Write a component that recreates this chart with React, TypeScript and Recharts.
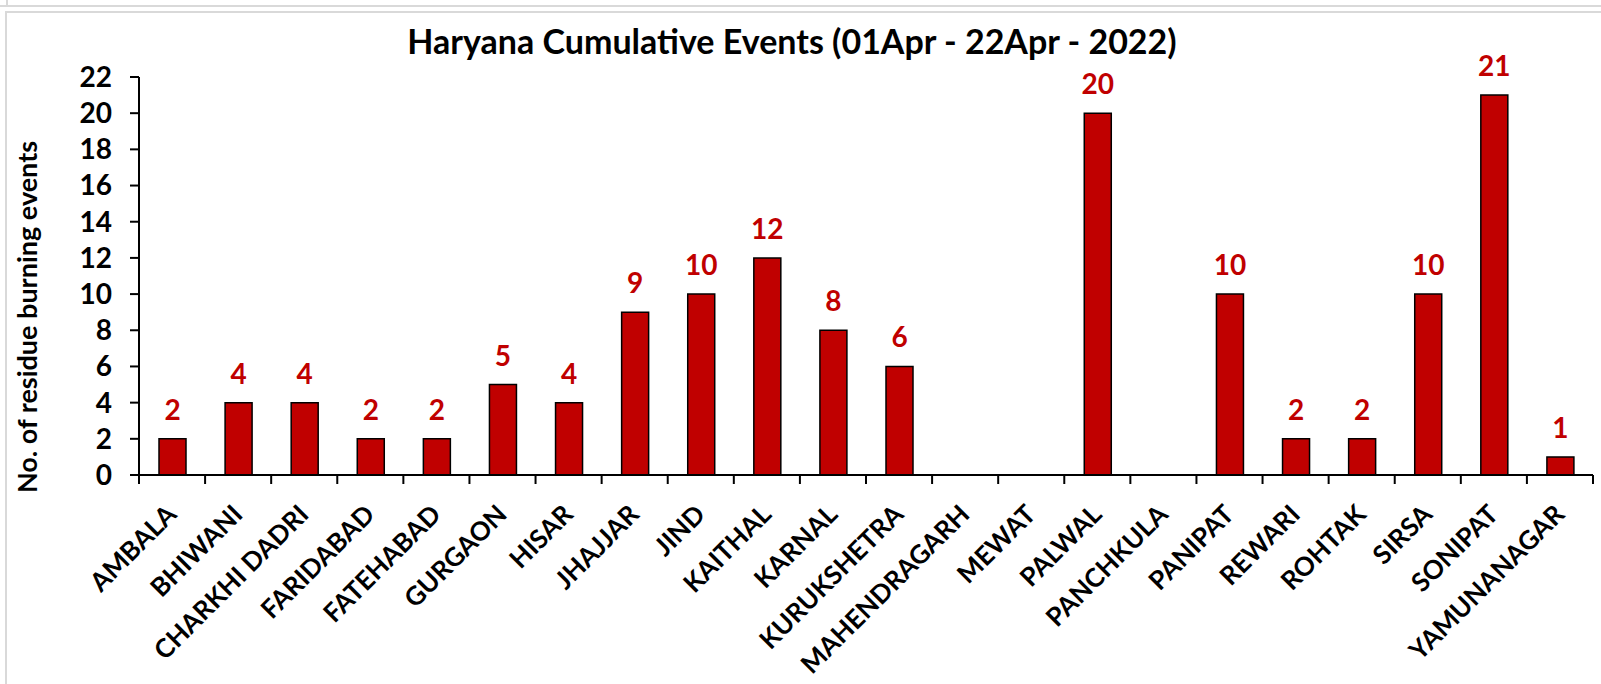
import React from 'react';
import { BarChart, Bar, XAxis, YAxis, LabelList } from 'recharts';

const districts = [
  'AMBALA', 'BHIWANI', 'CHARKHI DADRI', 'FARIDABAD', 'FATEHABAD', 'GURGAON',
  'HISAR', 'JHAJJAR', 'JIND', 'KAITHAL', 'KARNAL', 'KURUKSHETRA',
  'MAHENDRAGARH', 'MEWAT', 'PALWAL', 'PANCHKULA', 'PANIPAT', 'REWARI',
  'ROHTAK', 'SIRSA', 'SONIPAT', 'YAMUNANAGAR',
];
const events = [2, 4, 4, 2, 2, 5, 4, 9, 10, 12, 8, 6, 0, 0, 20, 0, 10, 2, 2, 10, 21, 1];
const yTicks = [0, 2, 4, 6, 8, 10, 12, 14, 16, 18, 20, 22];

const data = districts.map((name, i) => ({ name, value: events[i] }));

const W = 1601;
const H = 684;
const LEFT = 139;
const RIGHT = 8;
const FONT = 'Lato, "Open Sans", sans-serif';
const band = (W - LEFT - RIGHT) / districts.length;

// category label + tick marks at the category edges (Excel style)
const XTick = (props: any) => {
  const { x, y, payload, index } = props;
  const tx = x + 6;
  const ty = y + 33;
  return (
    <g>
      <line x1={x - band / 2} y1={y - 8} x2={x - band / 2} y2={y + 1} stroke="#000" strokeWidth={2} />
      {index === districts.length - 1 && (
        <line x1={x + band / 2} y1={y - 8} x2={x + band / 2} y2={y + 1} stroke="#000" strokeWidth={2} />
      )}
      <text
        x={tx}
        y={ty}
        textAnchor="end"
        transform={`rotate(-45, ${tx}, ${ty})`}
        fontFamily={FONT}
        fontWeight="bold"
        fontSize={26}
        fill="#000"
      >
        {payload.value}
      </text>
    </g>
  );
};

const YLabel = (props: any) => {
  const { viewBox } = props;
  const cx = 37;
  const cy = viewBox.y + viewBox.height / 2 + 41;
  return (
    <text
      x={cx}
      y={cy}
      textAnchor="middle"
      transform={`rotate(-90, ${cx}, ${cy})`}
      fontFamily={FONT}
      fontWeight="bold"
      fontSize={27}
      fill="#000"
    >
      No. of residue burning events
    </text>
  );
};

export default function App() {
  return (
    <div style={{ position: 'absolute', left: 0, top: 0, width: W, height: H, background: '#fff', fontFamily: FONT }}>
      <div style={{ position: 'absolute', left: 0, top: 5, width: W, borderTop: '2px solid #d9d9d9' }} />
      <div style={{ position: 'absolute', left: 6, top: 0, height: 5, borderLeft: '2px solid #d9d9d9' }} />
      <div
        style={{
          position: 'absolute', left: 5, top: 11, right: 0, bottom: 0,
          borderTop: '2px solid #d9d9d9', borderLeft: '2px solid #d9d9d9',
        }}
      />
      <div
        style={{
          position: 'absolute', left: 0, top: 21, width: 1584, textAlign: 'center',
          fontSize: 34, fontWeight: 'bold', lineHeight: '40px', color: '#000',
        }}
      >
        Haryana Cumulative Events (01Apr - 22Apr - 2022)
      </div>
      <BarChart
        width={W}
        height={H}
        data={data}
        margin={{ top: 77, right: RIGHT, bottom: 9, left: 0 }}
        style={{ position: 'absolute', left: 0, top: 0 }}
      >
        <XAxis
          dataKey="name"
          interval={0}
          height={200}
          tickLine={false}
          axisLine={{ stroke: '#000', strokeWidth: 2 }}
          tick={<XTick />}
        />
        <YAxis
          width={LEFT}
          domain={[0, 22]}
          ticks={yTicks}
          interval={0}
          tickSize={9}
          tickMargin={18}
          axisLine={{ stroke: '#000', strokeWidth: 2 }}
          tickLine={{ stroke: '#000', strokeWidth: 2 }}
          tick={{ fill: '#000', fontSize: 28, fontWeight: 'bold', fontFamily: FONT }}
          label={<YLabel />}
        />
        <Bar dataKey="value" fill="#C00000" stroke="#000" strokeWidth={1.5} barSize={27} isAnimationActive={false}>
          <LabelList
            dataKey="value"
            position="top"
            offset={19}
            formatter={(v: any) => (v === 0 ? '' : v)}
            fill="#C00000"
            fontSize={28}
            fontWeight="bold"
            fontFamily={FONT}
          />
        </Bar>
      </BarChart>
    </div>
  );
}
